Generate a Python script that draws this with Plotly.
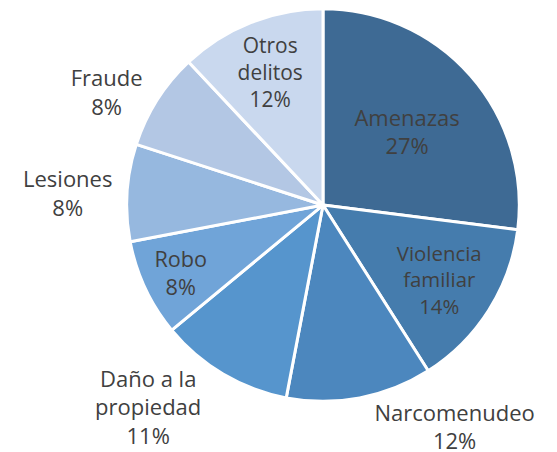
import plotly.graph_objects as go

categories = ["Amenazas", "Violencia familiar", "Narcomenudeo", "Daño a la propiedad",
              "Robo", "Lesiones", "Fraude", "Otros delitos"]
display_names = ["Amenazas", "Violencia<br>familiar", "Narcomenudeo", "Daño a la<br>propiedad",
                 "Robo", "Lesiones", "Fraude", "Otros<br>delitos"]
shares = [27, 14, 12, 11, 8, 8, 8, 12]

colors = ["#3E6A94", "#457CAD", "#4C87BE", "#5695CD",
          "#70A4D8", "#96B8DF", "#B3C7E4", "#C9D8EE"]
positions = ["inside", "inside", "outside", "outside",
             "inside", "outside", "outside", "inside"]

# figure a little taller than the window so plotly has room for the bottom labels
W, H = 557, 460
cx, top, r = 323, 9, 202
font = dict(family="Open Sans, sans-serif", size=22, color="#404040")

fig = go.Figure(go.Pie(
    labels=categories,
    values=shares,
    text=display_names,
    texttemplate="%{text}<br>%{percent:.0%}",
    textposition=positions,
    insidetextorientation="horizontal",
    sort=False,
    direction="clockwise",
    rotation=0,
    marker=dict(colors=colors, line=dict(color="white", width=3)),
    textfont=font,
    insidetextfont=font,
    outsidetextfont=font,
    domain=dict(x=[(cx - r) / W, (cx + r) / W], y=[1 - (top + 2 * r) / H, 1 - top / H]),
    hoverinfo="label+percent",
))

fig.update_layout(
    width=W, height=H,
    margin=dict(l=0, r=0, t=0, b=0),
    showlegend=False,
    paper_bgcolor="white",
)

# page body has a default 8px margin; drop it so the figure sits at the window corner
fig.write_html("out.html", config={"displayModeBar": False},
               post_script="document.body.style.margin='0';")
